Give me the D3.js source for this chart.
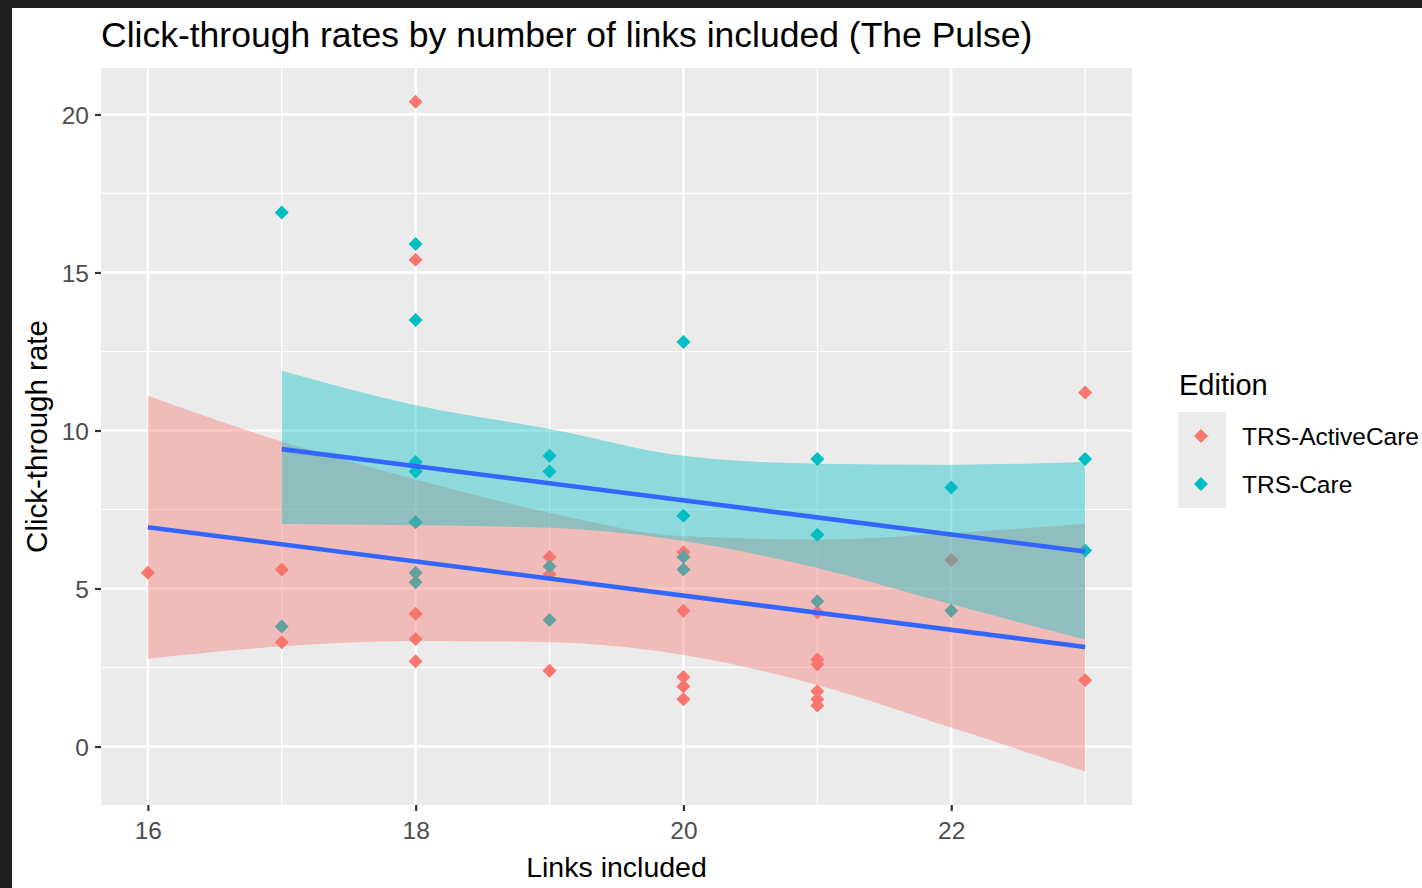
<!DOCTYPE html>
<html><head><meta charset="utf-8">
<script src="https://cdn.jsdelivr.net/npm/d3@7"></script>
<style>body{margin:0;background:#fff}svg{display:block}</style>
</head><body><svg id="c" width="1422" height="888"></svg>
<script>
// ---- data ----
const editions = ["TRS-ActiveCare", "TRS-Care"];
const editionColors = ["#F8766D", "#00BFC4"];

const activeCareLinks = [16, 17, 17, 18, 18, 18, 18, 18, 19, 19, 19, 20, 20, 20, 20, 20, 21, 21, 21, 21, 21, 21, 22, 23, 23];
const activeCareRate  = [5.5, 5.6, 3.3, 20.4, 15.4, 4.2, 3.4, 2.7, 6.0, 5.45, 2.4, 6.15, 4.3, 2.2, 1.9, 1.5, 4.25, 2.75, 2.6, 1.75, 1.5, 1.3, 5.9, 11.2, 2.1];

const careLinks = [17, 17, 18, 18, 18, 18, 18, 18, 18, 19, 19, 19, 19, 20, 20, 20, 20, 21, 21, 21, 22, 22, 23, 23];
const careRate  = [16.9, 3.8, 15.9, 13.5, 9.0, 8.7, 7.1, 5.5, 5.2, 9.2, 8.7, 5.7, 4.0, 12.8, 7.3, 6.0, 5.6, 9.1, 6.7, 4.6, 8.2, 4.3, 9.1, 6.2];

// linear fit lines
const activeCareFitX = [16, 23];
const activeCareFitY = [6.94, 3.15];
const careFitX = [17, 23];
const careFitY = [9.41, 6.17];

// confidence bands
const activeCareBandX = [16, 17, 18, 19, 20, 21, 22, 23];
const activeCareUpper = [11.1, 9.65, 8.45, 7.4, 6.65, 6.55, 6.75, 7.05];
const activeCareLower = [2.78, 3.17, 3.34, 3.3, 2.9, 1.95, 0.6, -0.79];
const careBandX = [17, 18, 19, 20, 21, 22, 23];
const careUpper = [11.89, 10.8, 10.05, 9.2, 8.95, 8.92, 9.0];
const careLower = [7.04, 7.0, 6.92, 6.5, 5.65, 4.5, 3.39];

const xTicks = [16, 18, 20, 22];
const xMinor = [17, 19, 21, 23];
const yTicks = [0, 5, 10, 15, 20];
const yMinor = [2.5, 7.5, 12.5, 17.5];

const titleText = "Click-through rates by number of links included (The Pulse)";
const xTitle = "Links included";
const yTitle = "Click-through rate";
const legendTitle = "Edition";

// ---- layout ----
const svg = d3.select("#c");
const FONT = "'Liberation Sans', Arial, sans-serif";
const P = {l: 101, r: 1132, t: 68, b: 805};

svg.append("rect").attr("width", 1422).attr("height", 888).attr("fill", "#fff");
// dark frame at top/left of the screenshot
svg.append("rect").attr("x", 0).attr("y", 0).attr("width", 1422).attr("height", 8).attr("fill", "#1f1f1f");
svg.append("rect").attr("x", 0).attr("y", 0).attr("width", 12).attr("height", 888).attr("fill", "#1f1f1f");

const x = d3.scaleLinear().domain([15.65, 23.35]).range([P.l, P.r]);
const y = d3.scaleLinear().domain([-1.85, 21.47]).range([P.b, P.t]);

// panel
svg.append("rect").attr("x", P.l).attr("y", P.t).attr("width", P.r - P.l).attr("height", P.b - P.t).attr("fill", "#EBEBEB");
const grid = svg.append("g");
yMinor.forEach(v => grid.append("line").attr("x1", P.l).attr("x2", P.r).attr("y1", y(v)).attr("y2", y(v)).attr("stroke", "#fff").attr("stroke-width", 1.2));
xMinor.forEach(v => grid.append("line").attr("y1", P.t).attr("y2", P.b).attr("x1", x(v)).attr("x2", x(v)).attr("stroke", "#fff").attr("stroke-width", 1.2));
yTicks.forEach(v => grid.append("line").attr("x1", P.l).attr("x2", P.r).attr("y1", y(v)).attr("y2", y(v)).attr("stroke", "#fff").attr("stroke-width", 2.4));
xTicks.forEach(v => grid.append("line").attr("y1", P.t).attr("y2", P.b).attr("x1", x(v)).attr("x2", x(v)).attr("stroke", "#fff").attr("stroke-width", 2.4));

// axes
const xAxis = d3.axisBottom(x).tickValues(xTicks).tickSize(6).tickPadding(10).tickFormat(d3.format("d"));
const gx = svg.append("g").attr("transform", `translate(0,${P.b})`).call(xAxis);
gx.select(".domain").remove();
gx.selectAll(".tick line").attr("stroke", "#333").attr("stroke-width", 2.2);
gx.selectAll(".tick text").attr("fill", "#4D4D4D").attr("font-family", FONT).attr("font-size", 24.5).attr("dy", "0.72em");

const yAxis = d3.axisLeft(y).tickValues(yTicks).tickSize(6).tickPadding(6).tickFormat(d3.format("d"));
const gy = svg.append("g").attr("transform", `translate(${P.l},0)`).call(yAxis);
gy.select(".domain").remove();
gy.selectAll(".tick line").attr("stroke", "#333").attr("stroke-width", 2.2);
gy.selectAll(".tick text").attr("fill", "#4D4D4D").attr("font-family", FONT).attr("font-size", 24.5).attr("dy", "0.36em");

// points (drawn under the smooth layers, as ggplot does)
const diamond = r => `M0,${-r}L${r},0L0,${r}L${-r},0Z`;
const pts = svg.append("g");
const acPts = activeCareLinks.map((v, i) => [v, activeCareRate[i]]);
const carePts = careLinks.map((v, i) => [v, careRate[i]]);
pts.selectAll(".ac").data(acPts).join("path").attr("d", diamond(7))
  .attr("transform", d => `translate(${x(d[0])},${y(d[1])})`).attr("fill", editionColors[0]);
pts.selectAll(".care").data(carePts).join("path").attr("d", diamond(7))
  .attr("transform", d => `translate(${x(d[0])},${y(d[1])})`).attr("fill", editionColors[1]);

// smooth layers
const area = d3.area().curve(d3.curveMonotoneX).x(d => x(d[0])).y0(d => y(d[1])).y1(d => y(d[2]));
const line = d3.line().x(d => x(d[0])).y(d => y(d[1]));
const smooth = [
  {bx: activeCareBandX, lo: activeCareLower, hi: activeCareUpper, fx: activeCareFitX, fy: activeCareFitY, c: editionColors[0]},
  {bx: careBandX, lo: careLower, hi: careUpper, fx: careFitX, fy: careFitY, c: editionColors[1]}
];
smooth.forEach(s => {
  svg.append("path").datum(s.bx.map((v, i) => [v, s.lo[i], s.hi[i]])).attr("d", area)
    .attr("fill", s.c).attr("fill-opacity", 0.4);
  svg.append("path").datum(s.fx.map((v, i) => [v, s.fy[i]])).attr("d", line)
    .attr("stroke", "#3366FF").attr("stroke-width", 4.6).attr("fill", "none");
});

// titles
svg.append("text").attr("x", P.l).attr("y", 47).attr("font-family", FONT).attr("font-size", 35.5).attr("fill", "#000").text(titleText);
svg.append("text").attr("x", (P.l + P.r) / 2).attr("y", 877).attr("text-anchor", "middle").attr("font-family", FONT).attr("font-size", 28.5).attr("fill", "#000").text(xTitle);
svg.append("text").attr("transform", `translate(47,${(P.t + P.b) / 2}) rotate(-90)`).attr("text-anchor", "middle").attr("font-family", FONT).attr("font-size", 29.5).attr("fill", "#000").text(yTitle);

// legend
const lg = svg.append("g");
lg.append("text").attr("x", 1179).attr("y", 395).attr("font-family", FONT).attr("font-size", 29).attr("fill", "#000").text(legendTitle);
editions.forEach((e, i) => {
  const cy = 436 + i * 48;
  lg.append("rect").attr("x", 1178).attr("y", cy - 24).attr("width", 48).attr("height", 48).attr("fill", "#EBEBEB");
  lg.append("path").attr("d", diamond(7)).attr("transform", `translate(1201,${cy})`).attr("fill", editionColors[i]);
  lg.append("text").attr("x", 1242).attr("y", cy).attr("dy", "0.36em").attr("font-family", FONT).attr("font-size", 24.5).attr("fill", "#000").text(e);
});
</script></body></html>
